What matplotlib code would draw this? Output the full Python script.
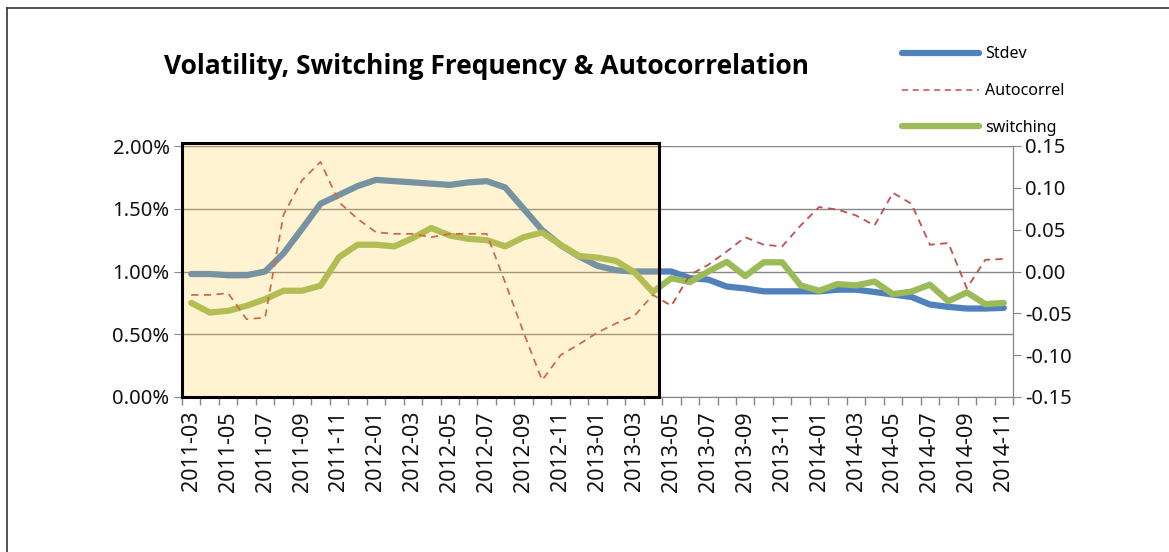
import numpy as np
import matplotlib
matplotlib.use("Agg")
import matplotlib.pyplot as plt
from matplotlib.patches import Rectangle
from matplotlib.lines import Line2D
from matplotlib.ticker import PercentFormatter, FixedLocator

plt.rcParams['font.family'] = ['Noto Sans', 'DejaVu Sans']

# monthly data, 2011-03 .. 2014-11
months = ["%d-%02d" % (2011 + (m - 1) // 12, (m - 1) % 12 + 1) for m in range(3, 48)]

stdev = [0.98, 0.98, 0.97, 0.97, 1.00, 1.145, 1.34, 1.54, 1.61, 1.68,
         1.73, 1.72, 1.71, 1.70, 1.69, 1.71, 1.72, 1.67, 1.50, 1.33,
         1.21, 1.12, 1.045, 1.01, 1.00, 1.00, 1.00, 0.947, 0.935, 0.88,
         0.865, 0.842, 0.842, 0.842, 0.842, 0.855, 0.855, 0.837, 0.816, 0.797,
         0.737, 0.718, 0.705, 0.705, 0.71]  # in %

autocorrel = [-0.028, -0.028, -0.026, -0.057, -0.055, 0.068, 0.109, 0.131, 0.083, 0.063,
              0.047, 0.045, 0.045, 0.041, 0.045, 0.045, 0.045, -0.013, -0.073, -0.130,
              -0.100, -0.087, -0.073, -0.062, -0.053, -0.028, -0.041, -0.004, 0.008, 0.024,
              0.041, 0.032, 0.030, 0.055, 0.077, 0.074, 0.067, 0.055, 0.094, 0.081,
              0.032, 0.034, -0.020, 0.014, 0.015]

switching = [-0.0375, -0.049, -0.047, -0.041, -0.033, -0.023, -0.023, -0.017, 0.017, 0.032,
             0.032, 0.030, 0.040, 0.052, 0.043, 0.039, 0.0375, 0.030, 0.041, 0.0465,
             0.032, 0.0186, 0.0166, 0.0127, -0.001, -0.0245, -0.008, -0.0127, 0.0, 0.0115,
             -0.0055, 0.011, 0.011, -0.0166, -0.023, -0.015, -0.0166, -0.012, -0.027, -0.024,
             -0.0157, -0.0355, -0.025, -0.039, -0.0375]

highlight_n = 26  # months covered by the shaded box

BLUE = "#4f81bd"
RED = "#c0504d"
GREEN = "#9bbb59"
GRAY = "#868686"

x = np.arange(len(months))

fig = plt.figure(figsize=(11.69, 5.52), dpi=100)
ax = fig.add_axes([182 / 1169, 1 - 397 / 552, (1013 - 182) / 1169, (397 - 146) / 552])
ax2 = ax.twinx()

ax.plot(x, stdev, color=BLUE, lw=4.5, solid_capstyle='round', zorder=3)
ax2.plot(x, switching, color=GREEN, lw=4.5, solid_capstyle='round', zorder=3)
ax2.plot(x, autocorrel, color=RED, lw=1.3, dashes=(4, 3), zorder=4)

ax.set_xlim(-0.5, len(months) - 0.5)
ax.set_ylim(0, 2.0)
ax2.set_ylim(-0.15, 0.15)
ax.yaxis.set_major_formatter(PercentFormatter(100, decimals=2))
ax.set_yticks([0, 0.5, 1.0, 1.5, 2.0])
ax2.set_yticks(np.arange(-0.15, 0.151, 0.05))
ax2.set_yticklabels(["%.2f" % v for v in np.arange(-0.15, 0.151, 0.05)])
ax.grid(axis='y', color=GRAY, lw=1.0)
ax.set_axisbelow(True)

ax.set_xticks(x[::2])
ax.set_xticklabels(months[::2], rotation=90)
ax.xaxis.set_minor_locator(FixedLocator(np.arange(-0.5, len(months), 1)))
ax.tick_params(axis='x', which='major', length=0, pad=10, labelsize=15.5, colors='#111111')
ax.tick_params(axis='x', which='minor', length=6, color=GRAY, width=1)
ax.tick_params(axis='y', length=6, color=GRAY, labelsize=14.5, labelcolor='#111111', pad=3)
ax2.tick_params(axis='y', length=6, color=GRAY, labelsize=14.5, labelcolor='#111111', pad=3)

for a in (ax, ax2):
    a.spines['top'].set_visible(False)
    for s in ('left', 'right', 'bottom'):
        a.spines[s].set_color(GRAY)
ax2.spines['left'].set_visible(False)
ax2.spines['bottom'].set_visible(False)

# shaded window over the first months
shade = Rectangle((-0.5, 0), highlight_n - 0.15, 1.012, transform=ax.get_xaxis_transform(),
                  facecolor=(1.0, 0.80, 0.25, 0.23), edgecolor='none', zorder=10, clip_on=False)
ax2.add_patch(shade)
frame = Rectangle((-0.5, 0), highlight_n - 0.15, 1.012, transform=ax.get_xaxis_transform(),
                  facecolor='none', edgecolor='black', lw=2.2, zorder=11, clip_on=False)
ax2.add_patch(frame)

fig.text(486 / 1169, 1 - 66 / 552, "Volatility, Switching Frequency & Autocorrelation",
         ha='center', va='center', fontsize=19, fontweight='bold',
         family=['Open Sans', 'DejaVu Sans'])

handles = [Line2D([], [], color=BLUE, lw=4.5, solid_capstyle='round'),
           Line2D([], [], color=RED, lw=1.1, dashes=(4, 3)),
           Line2D([], [], color=GREEN, lw=4.5, solid_capstyle='round')]
fig.legend(handles, ["Stdev", "Autocorrel", "switching"], loc='upper left',
           bbox_to_anchor=(888 / 1169, 1 - 32 / 552), frameon=False, fontsize=11.5,
           handlelength=4.8, handletextpad=0.4, labelspacing=1.3)

# outer frame of the original picture
fig.add_artist(Line2D([7 / 1169, 1], [1 - 8 / 552] * 2, transform=fig.transFigure, color='#333333', lw=1.2))
fig.add_artist(Line2D([7 / 1169] * 2, [0, 1 - 8 / 552], transform=fig.transFigure, color='#333333', lw=1.2))

fig.savefig("out.png", dpi=100)
